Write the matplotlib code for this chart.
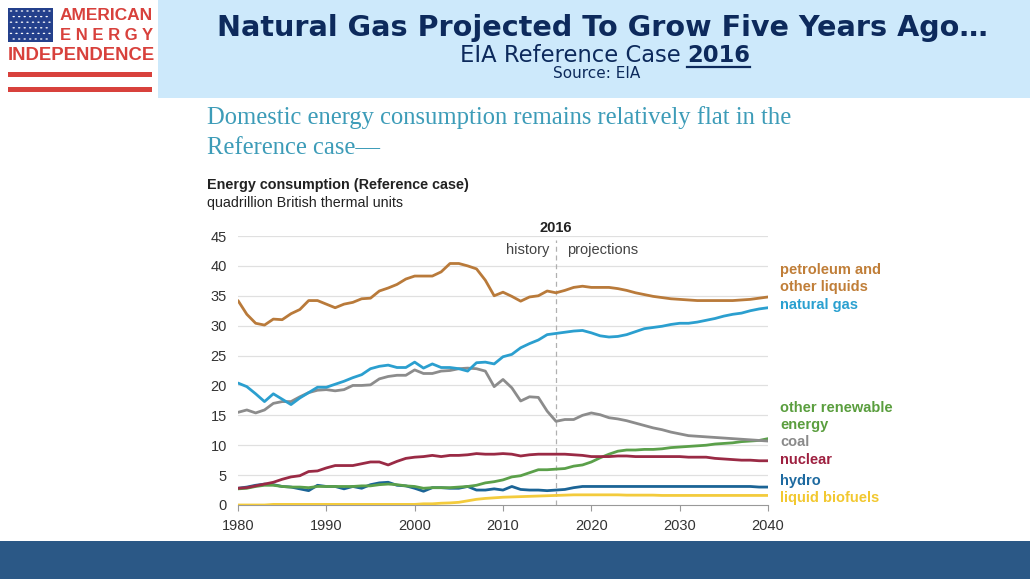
#!/usr/bin/env python3
"""EIA reference case 2016 energy consumption slide."""
import numpy as np
import matplotlib
matplotlib.use("Agg")
import matplotlib.pyplot as plt
from matplotlib.patches import Rectangle

W, H = 1030, 579
plt.rcParams["font.family"] = ["Liberation Sans", "DejaVu Sans"]

# --- data (quadrillion Btu) -----------------------------------------------
years = np.arange(1980, 2041)

petroleum = [34.2, 31.9, 30.4, 30.1, 31.1, 31.0, 32.0, 32.7, 34.2, 34.2,
             33.6, 33.0, 33.6, 33.9, 34.5, 34.6, 35.8, 36.3, 36.9, 37.8,
             38.3, 38.3, 38.3, 39.0, 40.4, 40.4, 40.0, 39.5, 37.6, 35.0,
             35.6, 34.9, 34.1, 34.8, 35.0, 35.8, 35.5,
             35.9, 36.4, 36.6, 36.4, 36.4, 36.4, 36.2, 35.9, 35.5, 35.2,
             34.9, 34.7, 34.5, 34.4, 34.3, 34.2, 34.2, 34.2, 34.2, 34.2,
             34.3, 34.4, 34.6, 34.8]
natural_gas = [20.4, 19.8, 18.6, 17.3, 18.6, 17.7, 16.8, 17.9, 18.8, 19.7,
               19.7, 20.2, 20.7, 21.3, 21.8, 22.8, 23.2, 23.4, 23.0, 23.0,
               23.9, 22.9, 23.6, 23.0, 23.0, 22.8, 22.4, 23.8, 23.9, 23.6,
               24.8, 25.2, 26.3, 27.0, 27.6, 28.5, 28.7,
               28.9, 29.1, 29.2, 28.8, 28.3, 28.1, 28.2, 28.5, 29.0, 29.5,
               29.7, 29.9, 30.2, 30.4, 30.4, 30.6, 30.9, 31.2, 31.6, 31.9,
               32.1, 32.5, 32.8, 33.0]
coal = [15.5, 15.9, 15.4, 15.9, 17.0, 17.3, 17.3, 18.1, 18.8, 19.2,
        19.3, 19.1, 19.3, 20.0, 20.0, 20.1, 21.1, 21.5, 21.7, 21.7,
        22.6, 22.0, 22.0, 22.4, 22.5, 22.8, 22.9, 22.8, 22.4, 19.8,
        21.0, 19.6, 17.4, 18.1, 18.0, 15.7, 14.0,
        14.3, 14.3, 15.0, 15.4, 15.1, 14.6, 14.4, 14.1, 13.7, 13.3,
        12.9, 12.6, 12.2, 11.9, 11.6, 11.5, 11.4, 11.3, 11.2, 11.1,
        11.0, 10.9, 10.8, 10.7]
nuclear = [2.8, 2.9, 3.2, 3.5, 3.8, 4.3, 4.7, 4.9, 5.6, 5.7,
           6.2, 6.6, 6.6, 6.6, 6.9, 7.2, 7.2, 6.7, 7.3, 7.8,
           8.0, 8.1, 8.3, 8.1, 8.3, 8.3, 8.4, 8.6, 8.5, 8.5,
           8.6, 8.5, 8.2, 8.4, 8.5, 8.5, 8.5,
           8.5, 8.4, 8.3, 8.1, 8.1, 8.1, 8.2, 8.2, 8.1, 8.1,
           8.1, 8.1, 8.1, 8.1, 8.0, 8.0, 8.0, 7.8, 7.7, 7.6,
           7.5, 7.5, 7.4, 7.4]
other_renewable = [2.7, 2.8, 3.1, 3.3, 3.3, 3.1, 3.0, 3.0, 2.9, 3.1,
                   3.1, 3.1, 3.1, 3.1, 3.2, 3.2, 3.4, 3.5, 3.4, 3.2,
                   3.1, 2.8, 2.9, 2.9, 2.9, 3.0, 3.1, 3.3, 3.7, 3.9,
                   4.2, 4.7, 4.9, 5.4, 5.9, 5.9, 6.0,
                   6.1, 6.5, 6.7, 7.2, 7.9, 8.5, 9.0, 9.2, 9.2, 9.3,
                   9.3, 9.4, 9.6, 9.7, 9.8, 9.9, 10.0, 10.2, 10.3, 10.4,
                   10.6, 10.7, 10.8, 11.1]
hydro = [2.8, 3.0, 3.3, 3.5, 3.4, 3.1, 3.0, 2.7, 2.4, 3.3,
         3.1, 3.1, 2.7, 3.1, 2.8, 3.4, 3.7, 3.8, 3.3, 3.2,
         2.8, 2.3, 2.9, 2.9, 2.8, 2.8, 3.1, 2.5, 2.5, 2.7,
         2.5, 3.1, 2.6, 2.5, 2.5, 2.4, 2.5,
         2.6, 2.9, 3.1, 3.1, 3.1, 3.1, 3.1, 3.1, 3.1, 3.1,
         3.1, 3.1, 3.1, 3.1, 3.1, 3.1, 3.1, 3.1, 3.1, 3.1,
         3.1, 3.1, 3.0, 3.0]
biofuels = [0.0, 0.0, 0.0, 0.0, 0.1, 0.1, 0.1, 0.1, 0.1, 0.1,
            0.1, 0.1, 0.1, 0.1, 0.1, 0.1, 0.1, 0.1, 0.1, 0.1,
            0.1, 0.2, 0.2, 0.3, 0.35, 0.45, 0.7, 0.95, 1.1, 1.2,
            1.3, 1.35, 1.4, 1.45, 1.5, 1.55, 1.6,
            1.65, 1.7, 1.7, 1.7, 1.7, 1.7, 1.7, 1.65, 1.65, 1.65,
            1.65, 1.6, 1.6, 1.6, 1.6, 1.6, 1.6, 1.6, 1.6, 1.6,
            1.6, 1.6, 1.6, 1.6]

# draw order bottom -> top
series = [
    (biofuels, "#f3cb3c"),
    (hydro, "#1b6496"),
    (other_renewable, "#5ba04a"),
    (nuclear, "#9a2a45"),
    (coal, "#8c8c8c"),
    (natural_gas, "#2b9fcf"),
    (petroleum, "#b97a3a"),
]
# right-hand labels: text, y position (px), colour
labels = [
    ("petroleum and", 270, "#c07e38"),
    ("other liquids", 287, "#c07e38"),
    ("natural gas", 305, "#2aa0d0"),
    ("other renewable", 408, "#5a9e3e"),
    ("energy", 425, "#5a9e3e"),
    ("coal", 442, "#8a8a8a"),
    ("nuclear", 460, "#9e2040"),
    ("hydro", 481, "#1e6aa0"),
    ("liquid biofuels", 498, "#f2c830"),
]


def fx(x):
    return x / W


def fy(y):
    return 1 - y / H


fig = plt.figure(figsize=(W / 100, H / 100), dpi=100)
fig.patch.set_facecolor("white")

# --- slide furniture -------------------------------------------------------
fig.add_artist(Rectangle((fx(158), fy(98)), (W - 158) / W, 98 / H,
                         transform=fig.transFigure, color="#cde9fb", lw=0))
fig.add_artist(Rectangle((0, 0), 1, fy(541), transform=fig.transFigure,
                         color="#2b5886", lw=0))

# logo
red = "#d8413c"
fig.add_artist(Rectangle((fx(8), fy(42)), 45 / W, 34 / H,
                         transform=fig.transFigure, color="#24408c", lw=0))
for r in range(6):
    for c in range(8):
        xo = 11 + c * 5.5 + (2.7 if r % 2 else 0)
        if xo < 52:
            fig.add_artist(plt.Circle((fx(xo), fy(11 + r * 5.6)), 0.0012,
                                      transform=fig.transFigure,
                                      color="white", lw=0))
for ys in (72, 87):
    fig.add_artist(Rectangle((fx(8), fy(ys + 5)), 144 / W, 5 / H,
                             transform=fig.transFigure, color=red, lw=0))
fig.text(fx(60), fy(15), "AMERICAN", color=red, fontsize=12.5,
         fontweight="bold", va="center", ha="left")
fig.text(fx(60), fy(35), "E N E R G Y", color=red, fontsize=12,
         fontweight="bold", va="center", ha="left")
fig.text(fx(8), fy(55), "INDEPENDENCE", color=red, fontsize=13.3,
         fontweight="bold", va="center", ha="left")

# header text
navy = "#0d2a5c"
hdr = ["DejaVu Sans"]
fig.text(fx(602), fy(28), "Natural Gas Projected To Grow Five Years Ago\u2026",
         color=navy, fontsize=20.6, fontweight="bold", family=hdr,
         ha="center", va="center")
fig.text(fx(681), fy(55), "EIA Reference Case", color=navy, fontsize=16.3,
         family=hdr, ha="right", va="center")
fig.text(fx(687), fy(55), "2016", color=navy, fontsize=16.3, family=hdr,
         fontweight="bold", ha="left", va="center")
fig.add_artist(plt.Line2D([fx(687), fx(750)], [fy(67), fy(67)],
                          transform=fig.transFigure, color=navy, lw=1.6))
fig.text(fx(597), fy(73), "Source: EIA", color=navy, fontsize=11,
         family=hdr, ha="center", va="center")

# chart headings
teal = "#3d9cb8"
serif = ["Liberation Serif", "DejaVu Serif"]
fig.text(fx(207), fy(118),
         "Domestic energy consumption remains relatively flat in the",
         color=teal, fontsize=17.7, family=serif, ha="left", va="center")
fig.text(fx(207), fy(148), "Reference case\u2014", color=teal, fontsize=17.7,
         family=serif, ha="left", va="center")
fig.text(fx(207), fy(185), "Energy consumption (Reference case)",
         color="#222222", fontsize=10.4, fontweight="bold",
         ha="left", va="center")
fig.text(fx(207), fy(203), "quadrillion British thermal units",
         color="#222222", fontsize=10.3, ha="left", va="center")

# --- the chart ---------------------------------------------------------------
ax = fig.add_axes([fx(238), fy(505), (768 - 238) / W, (505 - 236) / H])
ax.set_xlim(1980, 2040)
ax.set_ylim(0, 45)
for s in ("top", "right", "left"):
    ax.spines[s].set_visible(False)
ax.spines["bottom"].set_color("#999999")
ax.set_yticks(range(0, 46, 5))
ax.set_xticks(range(1980, 2041, 10))
ax.tick_params(axis="y", length=0, pad=8, labelsize=10.5,
               labelcolor="#333333")
ax.tick_params(axis="x", length=4, color="#999999", pad=6, labelsize=10.5,
               labelcolor="#333333")
for v in range(5, 46, 5):
    ax.axhline(v, color="#e0e0e0", lw=0.9, zorder=0)
ax.plot([2016, 2016], [0, 44.4], color="#b0b0b0", lw=0.9, ls=(0, (4, 3)),
        zorder=1, clip_on=False)

for vals, col in series:
    ax.plot(years, vals, color=col, lw=2.0, solid_capstyle="round", zorder=3)

ax.text(2016, 46.3, "2016", fontsize=10.5, fontweight="bold",
        color="#222222", ha="center", va="center", clip_on=False)
ax.text(2015.2, 42.7, "history", fontsize=10.5, color="#444444",
        ha="right", va="center")
ax.text(2017.2, 42.7, "projections", fontsize=10.5, color="#444444",
        ha="left", va="center")

for txt, ypx, col in labels:
    fig.text(fx(780), fy(ypx), txt, color=col, fontsize=10.5,
             fontweight="bold", ha="left", va="center")

fig.savefig("out.png", dpi=100)
